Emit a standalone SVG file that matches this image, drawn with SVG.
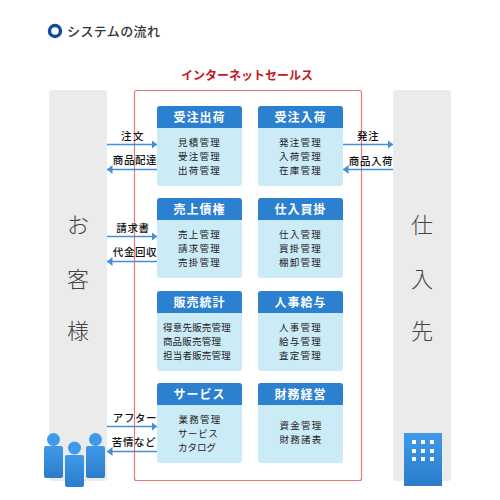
<svg xmlns="http://www.w3.org/2000/svg" width="500" height="500" viewBox="0 0 500 500">
<style>
text{font-family:"Noto Sans CJK JP","Noto Sans",sans-serif}
.panel{fill:#ebebeb}
.body{fill:#cbebf7}
.head{fill:#2c80d0}
.ht{fill:#fff;font-size:12px;font-weight:700;text-anchor:middle;letter-spacing:1px}
.it{fill:#222;font-size:9.5px;text-anchor:middle;letter-spacing:1.2px}
.lb{fill:#111;font-size:10.5px;font-weight:500;text-anchor:middle;letter-spacing:.6px}
.big{fill:#444;font-size:22px;font-weight:300;text-anchor:middle}
.cn{stroke:#3f8fdc;stroke-width:1.3;fill:none}
.ah{fill:#3f8fdc}
.win{fill:#fff}
</style>
<defs>
<linearGradient id="g" x1="0" y1="0" x2="0" y2="1"><stop offset="0" stop-color="#3f9aea"/><stop offset="1" stop-color="#2b7cc9"/></linearGradient>
<marker id="arr" markerWidth="6" markerHeight="9" refX="5.5" refY="4.5" orient="auto" markerUnits="userSpaceOnUse"><path class="ah" d="M0 0L5.500 4.500L0 9Z"/></marker>
</defs>
<g id="title">
<circle cx="55" cy="31" r="5.500" fill="#fff" stroke="#0f4c9c" stroke-width="3.400"/>
<text x="67" y="36" font-size="13" fill="#333" letter-spacing=".4" font-weight="500">システムの流れ</text>
</g>
<g id="customer"><rect class="panel" x="49" y="90" width="58" height="391" rx="3"/>
<text class="big" x="78" y="233">お</text><text class="big" x="78" y="287">客</text><text class="big" x="78" y="339">様</text></g>
<g id="supplier"><rect class="panel" x="393" y="90" width="58" height="391" rx="3"/>
<text class="big" x="422" y="233">仕</text><text class="big" x="422" y="287">入</text><text class="big" x="422" y="339">先</text></g>
<g id="internet-sales"><rect x="134.500" y="90.500" width="227" height="390" rx="2" fill="none" stroke="#e87a7a" stroke-width="1.200"/>
<text x="247" y="80" font-size="12" font-weight="700" fill="#c8161d" text-anchor="middle">インターネットセールス</text></g>
<g id="node-juchu-shukka"><rect class="body" x="157" y="106" width="85" height="80" rx="3"/><path class="head" d="M157 128V109a3 3 0 0 1 3-3h79a3 3 0 0 1 3 3v19z"/><text class="ht" x="199.500" y="122">受注出荷</text><text class="it" x="199.500" y="146">見積管理</text><text class="it" x="199.500" y="160">受注管理</text><text class="it" x="199.500" y="174">出荷管理</text></g>
<g id="node-juchu-nyuka"><rect class="body" x="258" y="106" width="85" height="80" rx="3"/><path class="head" d="M258 128V109a3 3 0 0 1 3-3h79a3 3 0 0 1 3 3v19z"/><text class="ht" x="300.500" y="122">受注入荷</text><text class="it" x="300.500" y="146">発注管理</text><text class="it" x="300.500" y="160">入荷管理</text><text class="it" x="300.500" y="174">在庫管理</text></g>
<g id="node-uriage"><rect class="body" x="157" y="198" width="85" height="80" rx="3"/><path class="head" d="M157 220V201a3 3 0 0 1 3-3h79a3 3 0 0 1 3 3v19z"/><text class="ht" x="199.500" y="214">売上債権</text><text class="it" x="199.500" y="238">売上管理</text><text class="it" x="199.500" y="252">請求管理</text><text class="it" x="199.500" y="266">売掛管理</text></g>
<g id="node-shiire"><rect class="body" x="258" y="198" width="85" height="80" rx="3"/><path class="head" d="M258 220V201a3 3 0 0 1 3-3h79a3 3 0 0 1 3 3v19z"/><text class="ht" x="300.500" y="214">仕入買掛</text><text class="it" x="300.500" y="238">仕入管理</text><text class="it" x="300.500" y="252">買掛管理</text><text class="it" x="300.500" y="266">棚卸管理</text></g>
<g id="node-hanbai"><rect class="body" x="157" y="291" width="85" height="80" rx="3"/><path class="head" d="M157 313V294a3 3 0 0 1 3-3h79a3 3 0 0 1 3 3v19z"/><text class="ht" x="199.500" y="307">販売統計</text><text class="it" x="197" y="331" style="letter-spacing:.2px">得意先販売管理</text><text class="it" x="192" y="345" style="letter-spacing:.2px">商品販売管理</text><text class="it" x="197" y="359" style="letter-spacing:.2px">担当者販売管理</text></g>
<g id="node-jinji"><rect class="body" x="258" y="291" width="85" height="80" rx="3"/><path class="head" d="M258 313V294a3 3 0 0 1 3-3h79a3 3 0 0 1 3 3v19z"/><text class="ht" x="300.500" y="307">人事給与</text><text class="it" x="300.500" y="331">人事管理</text><text class="it" x="300.500" y="345">給与管理</text><text class="it" x="300.500" y="359">査定管理</text></g>
<g id="node-service"><rect class="body" x="157" y="383" width="85" height="80" rx="3"/><path class="head" d="M157 405V386a3 3 0 0 1 3-3h79a3 3 0 0 1 3 3v19z"/><text class="ht" x="199.500" y="399">サービス</text><text class="it" x="200" y="423">業務管理</text><text class="it" x="178" y="437" style="text-anchor:start;letter-spacing:.6px">サービス</text><text class="it" x="178" y="451" style="text-anchor:start;letter-spacing:0">カタログ</text></g>
<g id="node-zaimu"><rect class="body" x="258" y="383" width="85" height="80" rx="3"/><path class="head" d="M258 405V386a3 3 0 0 1 3-3h79a3 3 0 0 1 3 3v19z"/><text class="ht" x="300.500" y="399">財務経営</text><text class="it" x="301" y="429">資金管理</text><text class="it" x="301" y="443">財務諸表</text></g>
<g id="connectors">
<path class="cn" d="M107 144.500H157" marker-end="url(#arr)"/>
<path class="cn" d="M157 169.500H107" marker-end="url(#arr)"/>
<path class="cn" d="M343 144.500H393" marker-end="url(#arr)"/>
<path class="cn" d="M393 169.500H343" marker-end="url(#arr)"/>
<path class="cn" d="M107 236.500H157" marker-end="url(#arr)"/>
<path class="cn" d="M157 261.500H107" marker-end="url(#arr)"/>
<path class="cn" d="M107 426.500H157" marker-end="url(#arr)"/>
<path class="cn" d="M157 451.500H107" marker-end="url(#arr)"/>
</g>
<g id="connector-labels">
<text class="lb" x="133" y="140" style="letter-spacing:1.500px">注文</text>
<text class="lb" x="135" y="164">商品配達</text>
<text class="lb" x="368" y="140">発注</text>
<text class="lb" x="371" y="165">商品入荷</text>
<text class="lb" x="133" y="232">請求書</text>
<text class="lb" x="135" y="256">代金回収</text>
<text class="lb" x="135" y="422">アフター</text>
<text class="lb" x="134" y="446">苦情など</text>
</g>
<g id="people">
<circle cx="53.500" cy="439.500" r="6.500" fill="#3f9aea"/><rect x="44" y="446" width="19" height="32" rx="2" fill="url(#g)"/>
<circle cx="95.500" cy="439.500" r="6.500" fill="#3f9aea"/><rect x="86" y="446" width="19" height="32" rx="2" fill="url(#g)"/>
<circle cx="74.500" cy="448" r="6.500" fill="#3f9aea"/><rect x="65" y="455" width="19" height="32" rx="2" fill="url(#g)"/>
</g>
<g id="building"><rect x="404" y="433" width="38" height="53" fill="url(#g)"/>
<g class="win"><rect x="412" y="440" width="4" height="4"/><rect x="421" y="440" width="4" height="4"/><rect x="430" y="440" width="4" height="4"/><rect x="412" y="449" width="4" height="4"/><rect x="421" y="449" width="4" height="4"/><rect x="430" y="449" width="4" height="4"/><rect x="412" y="457" width="4" height="4"/><rect x="421" y="457" width="4" height="4"/><rect x="430" y="457" width="4" height="4"/></g></g>
</svg>
